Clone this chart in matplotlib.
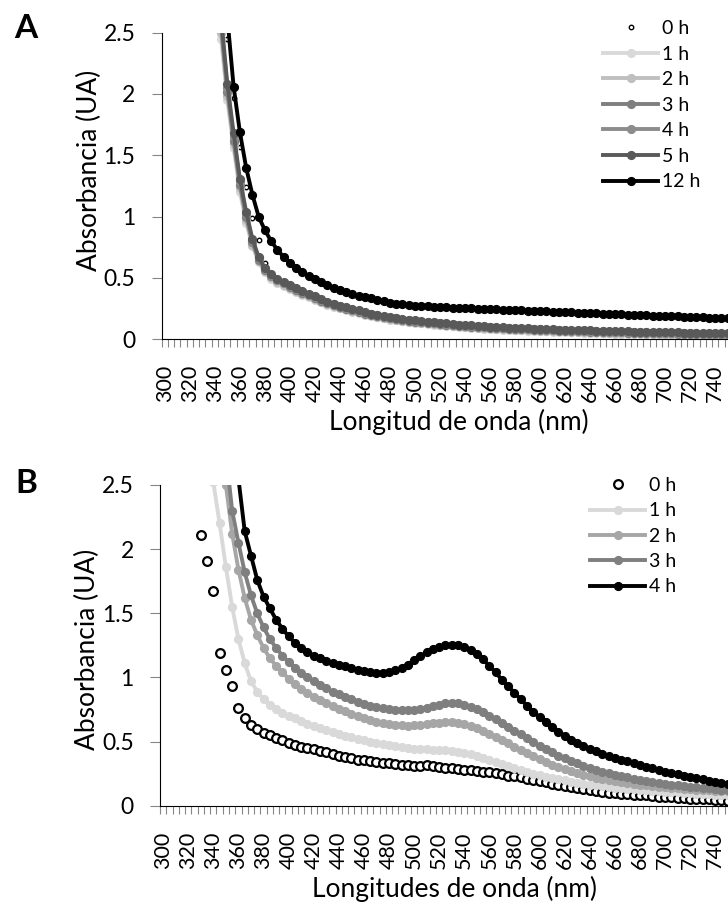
import numpy as np
from matplotlib import pyplot as plt

plt.rcParams['font.family'] = ['Lato', 'DejaVu Sans']

# ---- Panel A: absorbance every 5 nm, first value at the start wavelength ----
a_0h_start = 350
a_0h = [2.45, 1.97, 1.57, 1.24, 0.99, 0.81, 0.62, 0.53, 0.49, 0.46,
        0.435, 0.41, 0.385, 0.365, 0.345, 0.32, 0.3, 0.285, 0.27, 0.255,
        0.24, 0.23, 0.215, 0.205, 0.195, 0.185, 0.175, 0.17, 0.16, 0.155,
        0.15, 0.145, 0.14, 0.135, 0.13, 0.125, 0.12, 0.115, 0.112, 0.108,
        0.105, 0.102, 0.099, 0.096, 0.093, 0.091, 0.088, 0.086, 0.084, 0.082,
        0.08, 0.078, 0.076, 0.074, 0.073, 0.071, 0.07, 0.068, 0.067, 0.065,
        0.064, 0.063, 0.061, 0.06, 0.059, 0.058, 0.057, 0.056, 0.055, 0.054,
        0.053, 0.052, 0.051, 0.05, 0.049, 0.048, 0.047, 0.046, 0.045, 0.044,
        0.043]

a_1h_start = 345
a_1h = [2.45, 1.95, 1.56, 1.2, 0.95, 0.76, 0.63, 0.545, 0.495, 0.46,
        0.435, 0.41, 0.386, 0.364, 0.344, 0.324, 0.301, 0.282, 0.267, 0.252,
        0.238, 0.224, 0.213, 0.2, 0.19, 0.18, 0.17, 0.161, 0.155, 0.146,
        0.14, 0.135, 0.13, 0.125, 0.12, 0.115, 0.11, 0.106, 0.101, 0.098,
        0.094, 0.091, 0.088, 0.085, 0.082, 0.079, 0.077, 0.074, 0.072, 0.07,
        0.068, 0.066, 0.064, 0.062, 0.06, 0.059, 0.057, 0.056, 0.054, 0.053,
        0.051, 0.05, 0.049, 0.047, 0.046, 0.045, 0.044, 0.043, 0.042, 0.041,
        0.04, 0.039, 0.038, 0.037, 0.036, 0.035, 0.034, 0.033, 0.032, 0.031,
        0.03, 0.029]

a_2h_start = 345
a_2h = [2.5, 1.98, 1.59, 1.23, 0.97, 0.77, 0.64, 0.555, 0.505, 0.47,
        0.445, 0.42, 0.395, 0.372, 0.352, 0.332, 0.308, 0.289, 0.274, 0.259,
        0.244, 0.23, 0.219, 0.205, 0.195, 0.185, 0.175, 0.166, 0.16, 0.151,
        0.145, 0.14, 0.135, 0.13, 0.125, 0.12, 0.115, 0.111, 0.106, 0.103,
        0.099, 0.096, 0.093, 0.09, 0.087, 0.084, 0.082, 0.079, 0.077, 0.075,
        0.073, 0.071, 0.069, 0.067, 0.065, 0.064, 0.062, 0.061, 0.059, 0.058,
        0.056, 0.055, 0.054, 0.052, 0.051, 0.05, 0.049, 0.048, 0.047, 0.046,
        0.045, 0.044, 0.043, 0.042, 0.041, 0.04, 0.039, 0.038, 0.037, 0.036,
        0.035, 0.034]

a_3h_start = 345
a_3h = [2.55, 2.02, 1.62, 1.26, 1.0, 0.79, 0.65, 0.565, 0.515, 0.48,
        0.455, 0.43, 0.405, 0.38, 0.36, 0.34, 0.315, 0.295, 0.28, 0.265,
        0.25, 0.236, 0.225, 0.21, 0.2, 0.19, 0.18, 0.171, 0.165, 0.156,
        0.15, 0.145, 0.14, 0.135, 0.13, 0.125, 0.12, 0.116, 0.111, 0.108,
        0.104, 0.101, 0.098, 0.095, 0.092, 0.089, 0.087, 0.084, 0.082, 0.08,
        0.078, 0.076, 0.074, 0.072, 0.07, 0.069, 0.067, 0.066, 0.064, 0.063,
        0.061, 0.06, 0.059, 0.057, 0.056, 0.055, 0.054, 0.053, 0.052, 0.051,
        0.05, 0.049, 0.048, 0.047, 0.046, 0.045, 0.044, 0.043, 0.042, 0.041,
        0.04, 0.039]

a_4h_start = 345
a_4h = [2.58, 2.05, 1.65, 1.29, 1.02, 0.8, 0.66, 0.57, 0.52, 0.485,
        0.46, 0.435, 0.41, 0.385, 0.365, 0.345, 0.32, 0.3, 0.285, 0.27,
        0.255, 0.24, 0.23, 0.215, 0.205, 0.195, 0.185, 0.175, 0.17, 0.16,
        0.155, 0.15, 0.145, 0.14, 0.135, 0.13, 0.125, 0.12, 0.115, 0.112,
        0.108, 0.105, 0.102, 0.099, 0.096, 0.093, 0.091, 0.088, 0.086, 0.084,
        0.082, 0.08, 0.078, 0.076, 0.074, 0.073, 0.071, 0.07, 0.068, 0.067,
        0.065, 0.064, 0.063, 0.061, 0.06, 0.059, 0.058, 0.057, 0.056, 0.055,
        0.054, 0.053, 0.052, 0.051, 0.05, 0.049, 0.048, 0.047, 0.046, 0.045,
        0.044, 0.043]

a_5h_start = 345
a_5h = [2.62, 2.08, 1.68, 1.31, 1.04, 0.82, 0.67, 0.58, 0.53, 0.49,
        0.465, 0.44, 0.415, 0.39, 0.37, 0.35, 0.325, 0.305, 0.29, 0.275,
        0.26, 0.245, 0.235, 0.22, 0.21, 0.2, 0.19, 0.18, 0.175, 0.165,
        0.16, 0.155, 0.15, 0.145, 0.14, 0.135, 0.13, 0.125, 0.12, 0.117,
        0.113, 0.11, 0.107, 0.104, 0.101, 0.098, 0.096, 0.093, 0.091, 0.089,
        0.087, 0.085, 0.083, 0.081, 0.079, 0.078, 0.076, 0.075, 0.073, 0.072,
        0.07, 0.069, 0.068, 0.066, 0.065, 0.064, 0.063, 0.062, 0.061, 0.06,
        0.059, 0.058, 0.057, 0.056, 0.055, 0.054, 0.053, 0.052, 0.051, 0.05,
        0.049, 0.048]

a_12h_start = 350
a_12h = [2.62, 2.06, 1.69, 1.4, 1.18, 1.0, 0.89, 0.8, 0.73, 0.67,
         0.62, 0.58, 0.545, 0.515, 0.49, 0.465, 0.44, 0.42, 0.4, 0.385,
         0.37, 0.355, 0.345, 0.335, 0.32, 0.31, 0.3, 0.29, 0.285, 0.28,
         0.275, 0.27, 0.268, 0.265, 0.262, 0.26, 0.258, 0.256, 0.254, 0.252,
         0.25, 0.248, 0.246, 0.244, 0.242, 0.24, 0.238, 0.236, 0.234, 0.232,
         0.23, 0.228, 0.226, 0.224, 0.222, 0.22, 0.218, 0.216, 0.214, 0.212,
         0.21, 0.208, 0.206, 0.204, 0.202, 0.2, 0.198, 0.196, 0.194, 0.192,
         0.19, 0.188, 0.186, 0.184, 0.182, 0.18, 0.178, 0.176, 0.174, 0.172,
         0.17]

# ---- Panel B ----
b_0h_start = 330
b_0h = [2.11, 1.91, 1.67, 1.19, 1.06, 0.93, 0.76, 0.68, 0.63, 0.6,
        0.57, 0.55, 0.53, 0.51, 0.49, 0.475, 0.46, 0.45, 0.44, 0.425,
        0.415, 0.4, 0.39, 0.38, 0.37, 0.36, 0.355, 0.35, 0.34, 0.335,
        0.33, 0.325, 0.32, 0.315, 0.31, 0.31, 0.315, 0.31, 0.3, 0.295,
        0.29, 0.285, 0.28, 0.275, 0.27, 0.265, 0.26, 0.255, 0.245, 0.235,
        0.23, 0.22, 0.21, 0.2, 0.19, 0.185, 0.17, 0.16, 0.15, 0.145,
        0.14, 0.13, 0.12, 0.115, 0.11, 0.1, 0.1, 0.09, 0.09, 0.085,
        0.08, 0.08, 0.075, 0.07, 0.07, 0.065, 0.06, 0.06, 0.055, 0.055,
        0.05, 0.05, 0.045, 0.045, 0.04]

b_1h_start = 335
b_1h = [2.95, 2.52, 2.2, 1.86, 1.55, 1.3, 1.11, 0.97, 0.89, 0.83,
        0.785, 0.75, 0.725, 0.7, 0.68, 0.66, 0.64, 0.62, 0.603, 0.587,
        0.572, 0.558, 0.545, 0.533, 0.521, 0.51, 0.5, 0.49, 0.48, 0.471,
        0.463, 0.456, 0.45, 0.445, 0.441, 0.438, 0.437, 0.437, 0.435, 0.43,
        0.422, 0.412, 0.4, 0.386, 0.371, 0.355, 0.339, 0.323, 0.307, 0.292,
        0.277, 0.263, 0.25, 0.238, 0.227, 0.216, 0.206, 0.197, 0.188, 0.18,
        0.172, 0.165, 0.158, 0.152, 0.146, 0.141, 0.136, 0.131, 0.127, 0.123,
        0.119, 0.115, 0.112, 0.109, 0.106, 0.103, 0.1, 0.097, 0.095, 0.092,
        0.09, 0.087, 0.085, 0.083]

b_2h_start = 345
b_2h = [2.95, 2.5, 2.12, 1.84, 1.62, 1.45, 1.33, 1.23, 1.15, 1.09,
        1.04, 0.99, 0.95, 0.91, 0.88, 0.85, 0.825, 0.8, 0.775, 0.755,
        0.735, 0.715, 0.7, 0.685, 0.67, 0.655, 0.645, 0.636, 0.63, 0.626,
        0.625, 0.626, 0.63, 0.636, 0.643, 0.648, 0.651, 0.651, 0.647, 0.637,
        0.622, 0.603, 0.582, 0.56, 0.536, 0.511, 0.486, 0.461, 0.436, 0.411,
        0.387, 0.364, 0.342, 0.321, 0.302, 0.285, 0.269, 0.254, 0.241, 0.229,
        0.218, 0.208, 0.199, 0.191, 0.183, 0.176, 0.17, 0.164, 0.159, 0.154,
        0.149, 0.145, 0.141, 0.137, 0.133, 0.129, 0.126, 0.123, 0.12, 0.117,
        0.114, 0.111]

b_3h_start = 350
b_3h = [2.75, 2.3, 2.05, 1.82, 1.64, 1.5, 1.39, 1.3, 1.23, 1.17,
        1.12, 1.075, 1.035, 1.0, 0.97, 0.94, 0.915, 0.89, 0.87, 0.85,
        0.83, 0.81, 0.795, 0.78, 0.768, 0.758, 0.75, 0.745, 0.742, 0.742,
        0.745, 0.751, 0.761, 0.774, 0.787, 0.797, 0.801, 0.798, 0.788, 0.772,
        0.752, 0.728, 0.702, 0.674, 0.645, 0.615, 0.585, 0.555, 0.525, 0.496,
        0.468, 0.441, 0.415, 0.391, 0.369, 0.348, 0.329, 0.311, 0.295, 0.28,
        0.266, 0.253, 0.241, 0.23, 0.22, 0.21, 0.201, 0.193, 0.185, 0.178,
        0.171, 0.165, 0.159, 0.153, 0.148, 0.143, 0.138, 0.134, 0.13, 0.126,
        0.122]

b_4h_start = 355
b_4h = [3.0, 2.55, 2.14, 1.95, 1.76, 1.63, 1.54, 1.45, 1.38, 1.32,
        1.27, 1.23, 1.2, 1.17, 1.15, 1.13, 1.115, 1.1, 1.09, 1.075,
        1.06, 1.05, 1.04, 1.035, 1.035, 1.04, 1.055, 1.075, 1.1, 1.135,
        1.165, 1.195, 1.22, 1.24, 1.25, 1.255, 1.25, 1.235, 1.21, 1.18,
        1.14, 1.09, 1.04, 0.98, 0.93, 0.88, 0.83, 0.78, 0.73, 0.69,
        0.65, 0.61, 0.575, 0.545, 0.515, 0.49, 0.465, 0.445, 0.425, 0.405,
        0.39, 0.375, 0.36, 0.345, 0.33, 0.315, 0.3, 0.29, 0.275, 0.265,
        0.255, 0.245, 0.235, 0.225, 0.215, 0.205, 0.195, 0.185, 0.18, 0.17]

x_labels = list(range(300, 745, 20))
y_ticks = [0, 0.5, 1, 1.5, 2, 2.5]
y_labels = ['0', '0.5', '1', '1.5', '2', '2.5']


def wavelengths(start, vals):
    # one reading every 5 nm
    return np.arange(start, start + 5 * len(vals), 5)


def style_axis(ax, xlabel, ylab_y):
    ax.set_xlim(297.5, 750.2)
    ax.set_ylim(0, 2.5)
    ax.spines['top'].set_visible(False)
    ax.spines['right'].set_visible(False)
    for s in ['left', 'bottom']:
        ax.spines[s].set_color('black')
        ax.spines[s].set_linewidth(0.8)
    ax.set_yticks(y_ticks)
    ax.set_yticklabels(y_labels)
    ax.set_xticks(x_labels)
    ax.set_xticklabels([str(v) for v in x_labels])
    ax.set_xticks(np.arange(297.5, 751, 5), minor=True)
    ax.tick_params(axis='x', which='major', length=0, pad=18.5,
                   labelrotation=90, labelsize=15.5)
    ax.tick_params(axis='x', which='minor', length=6, width=0.8, color='#868686')
    ax.tick_params(axis='y', length=7, width=0.8, color='#868686', pad=12,
                   labelsize=16.5)
    ax.set_xlabel(xlabel, fontsize=19)
    ax.xaxis.label.set_va('center')
    ax.set_ylabel('Absorbancia (UA)', fontsize=19)
    ax.yaxis.label.set_va('center')
    ax.yaxis.set_label_coords(-0.128, ylab_y)


fig = plt.figure(figsize=(7.28, 9.07), dpi=100)
axA = fig.add_axes([0.2221, 0.6259, 1 - 0.2221, 0.3381])
axB = fig.add_axes([0.2198, 0.1117, 1 - 0.2198, 0.3536])

lw = 2.8
ms = 5.6

# panel A
axA.plot(wavelengths(a_0h_start, a_0h), a_0h, ls='none', marker='o', ms=3.2,
         mfc='white', mec='black', mew=1.0, label='0 h')
a_series = [(a_1h_start, a_1h, '#d9d9d9', '1 h'),
            (a_2h_start, a_2h, '#bfbfbf', '2 h'),
            (a_3h_start, a_3h, '#7f7f7f', '3 h'),
            (a_4h_start, a_4h, '#8c8c8c', '4 h'),
            (a_5h_start, a_5h, '#595959', '5 h'),
            (a_12h_start, a_12h, '#000000', '12 h')]
for start, vals, col, lab in a_series:
    axA.plot(wavelengths(start, vals), vals, color=col, lw=lw, marker='o',
             ms=ms, mfc=col, mec=col, label=lab)
style_axis(axA, 'Longitud de onda (nm)', 0.55)
axA.xaxis.set_label_coords(0.525, -0.27)
axA.legend(loc='upper left', bbox_to_anchor=(603 / 728, 1 - 20 / 907),
           bbox_transform=fig.transFigure, frameon=False, borderpad=0,
           borderaxespad=0, handlelength=2.85, handletextpad=0.2,
           labelspacing=0.44, fontsize=14, numpoints=1)

# panel B
axB.plot(wavelengths(b_0h_start, b_0h), b_0h, ls='none', marker='o', ms=6.3,
         mfc='white', mec='black', mew=1.6, label='0 h')
b_series = [(b_1h_start, b_1h, '#d9d9d9', '1 h'),
            (b_2h_start, b_2h, '#a6a6a6', '2 h'),
            (b_3h_start, b_3h, '#7f7f7f', '3 h'),
            (b_4h_start, b_4h, '#000000', '4 h')]
for start, vals, col, lab in b_series:
    axB.plot(wavelengths(start, vals), vals, color=col, lw=lw, marker='o',
             ms=ms, mfc=col, mec=col, label=lab)
style_axis(axB, 'Longitudes de onda (nm)', 0.486)
axB.xaxis.set_label_coords(0.519, -0.26)
axB.legend(loc='upper left', bbox_to_anchor=(590 / 728, 1 - 477 / 907),
           bbox_transform=fig.transFigure, frameon=False, borderpad=0,
           borderaxespad=0, handlelength=2.85, handletextpad=0.2,
           labelspacing=0.43, fontsize=14, numpoints=1)

fig.text(25.5 / 728, 1 - 28.5 / 907, 'A', fontsize=24, fontweight='bold',
         ha='center', va='center')
fig.text(26 / 728, 1 - 483.5 / 907, 'B', fontsize=24, fontweight='bold',
         ha='center', va='center')

fig.savefig('out.png', dpi=100)
